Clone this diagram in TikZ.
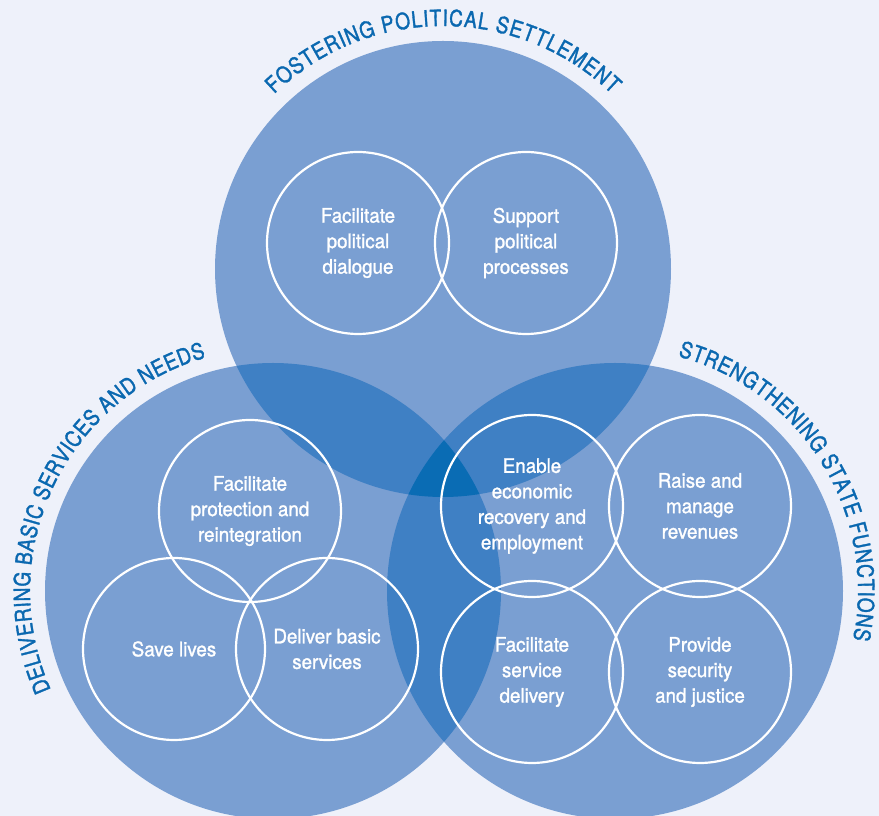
\documentclass[tikz,border=0pt]{standalone}
\usepackage{fontspec}
\setmainfont{TeX Gyre Heros}[FakeStretch=0.94, FakeBold=1.3]
\newfontfamily\ringfamily{TeX Gyre Heros}[FakeStretch=0.85, FakeBold=1.5]
\usetikzlibrary{decorations.text}

\definecolor{pagebg}{HTML}{EEF1FA}
\definecolor{ringfill}{HTML}{7A9FD2}
\definecolor{twofill}{HTML}{3F80C4}
\definecolor{threefill}{HTML}{0A6CB4}
\definecolor{titleblue}{HTML}{0A68B0}

\newcommand\goalfont{\fontsize{20}{25.5}\selectfont}
\newcommand\titlefont{\ringfamily\fontsize{22.5}{24}\selectfont}

\tikzset{
  goal/.style={circle, draw=white, line width=2.2pt, minimum size=182pt,
    inner sep=0pt, align=center, text=white, font=\goalfont},
  ringtitle/.style={decorate, decoration={text along path, text={|\titlefont|#1},
    text align=fit to path, text color=titleblue}}
}

\begin{document}
\begin{tikzpicture}[x=1pt, y=1pt, line join=round, line cap=round]
	\fill[pagebg] (0,0) rectangle (879,816);
	\useasboundingbox (0,0) rectangle (879,816);
	\path
	(443,547) coordinate (T)
	(273,225) coordinate (L)
	(615,225) coordinate (R)
	;
	% the three big rings and their overlaps
	\foreach \p in {T,L,R}
	\fill[ringfill] (\p) circle (228);
	\begin{scope}
		\clip (T) circle (228);
		\fill[twofill] (L) circle (228);
		\fill[twofill] (R) circle (228);
	\end{scope}
	\begin{scope}
		\clip (L) circle (228);
		\fill[twofill] (R) circle (228);
	\end{scope}
	\begin{scope}
		\clip (T) circle (228);
		\clip (L) circle (228);
		\fill[threefill] (R) circle (228);
	\end{scope}
	% titles round the rings
	\path[ringtitle={FOSTERING POLITICAL SETTLEMENT}]
	([shift={(134:243)}]T) arc[start angle=134, end angle=46, radius=243];
	\path[ringtitle={DELIVERING BASIC SERVICES AND NEEDS}]
	([shift={(204:243)}]L) arc[start angle=204, end angle=106, radius=243];
	\path[ringtitle={STRENGTHENING STATE FUNCTIONS}]
	([shift={(75:243)}]R) arc[start angle=75, end angle=-11.5, radius=243];
	% goals
	\node[goal] (dialogue) at (358,573) {Facilitate\\political\\dialogue};
	\node[goal] (process) at (526,573) {Support\\political\\processes};
	\node[goal] (protect) at (250,305) {Facilitate\\protection and\\reintegration};
	\node[goal] (lives) at (174,167) {Save lives};
	\node[goal] (basic) at (327,167) {Deliver basic\\services};
	\node[goal] (economy) at (532,310) {Enable\\economic\\recovery and\\employment};
	\node[goal] (revenue) at (700,310) {Raise and\\manage\\revenues};
	\node[goal] (service) at (532,144) {Facilitate\\service\\delivery};
	\node[goal] (security) at (700,144) {Provide\\security\\and justice};
\end{tikzpicture}
\end{document}
